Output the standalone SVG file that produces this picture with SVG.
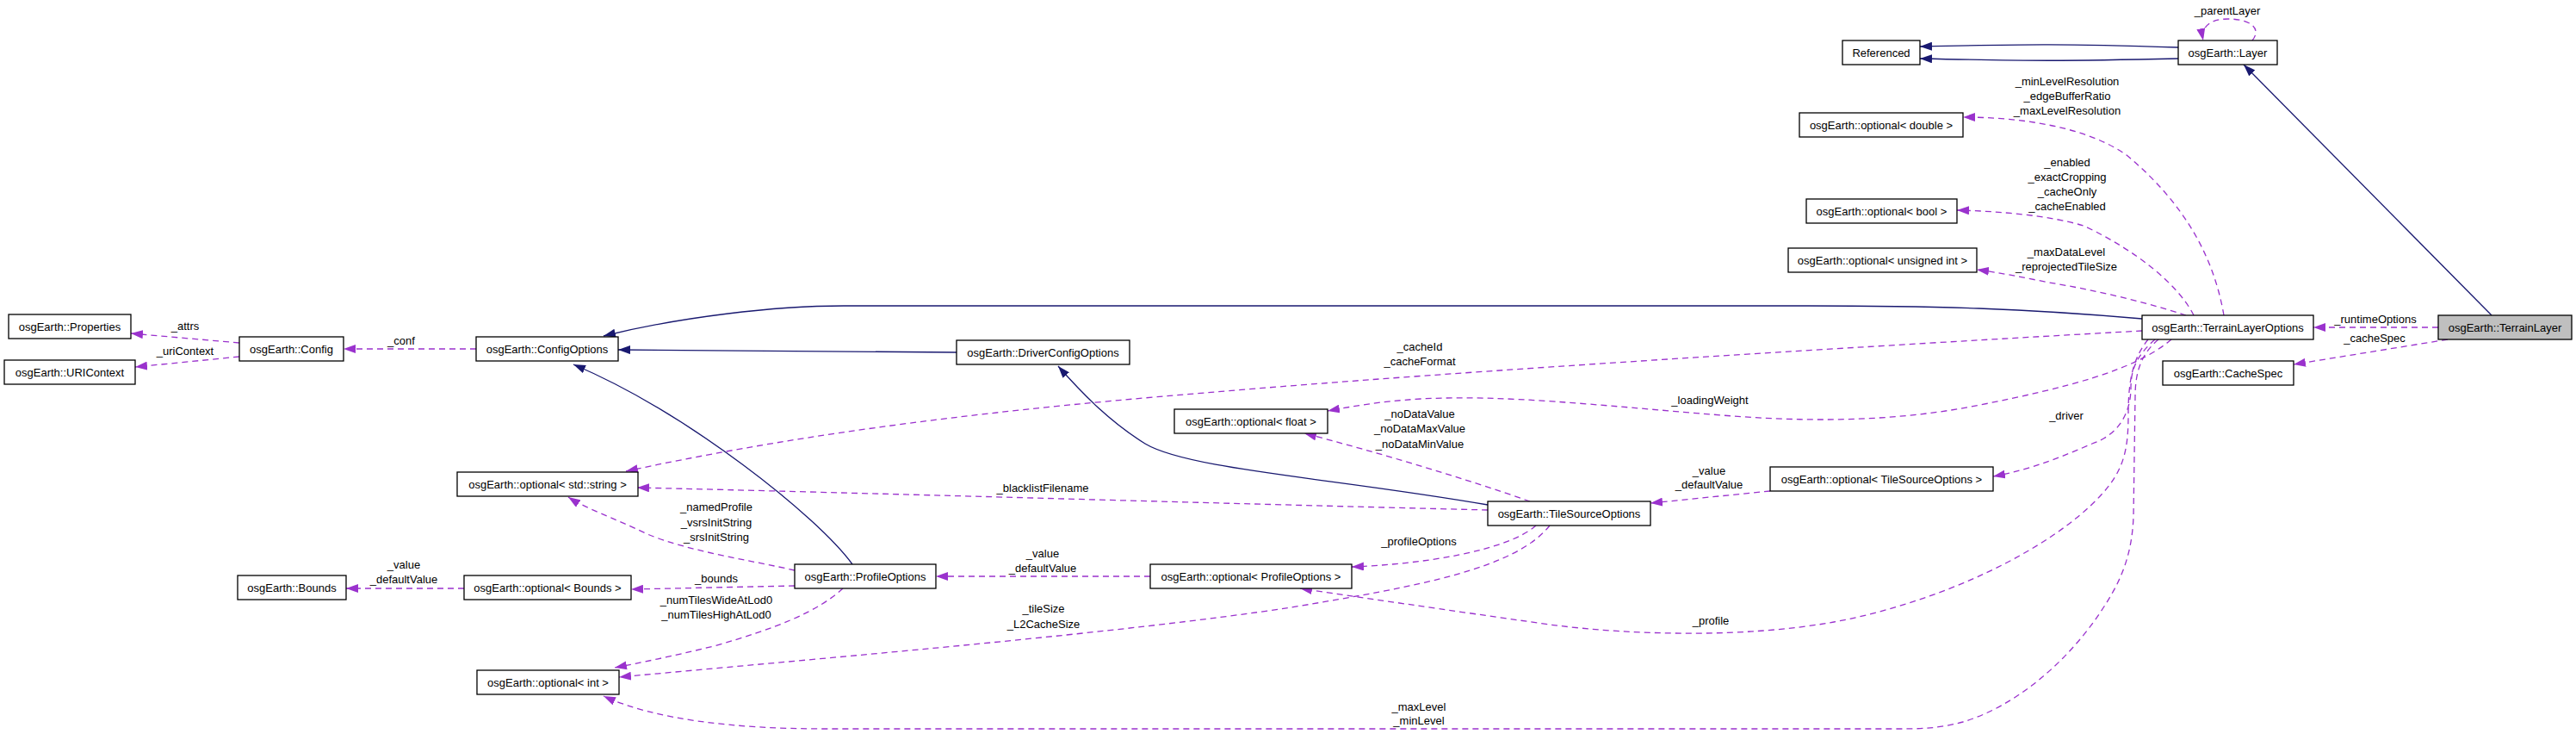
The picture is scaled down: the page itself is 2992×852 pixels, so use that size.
<svg xmlns="http://www.w3.org/2000/svg" width="2992" height="852" viewBox="0 0 2992 852">
<style>
.n rect{fill:#fff;stroke:#000;stroke-width:1.3}
.n text{font-family:"Liberation Sans",Arial,sans-serif;font-size:13px;fill:#000;text-anchor:middle}
.e path{fill:none;stroke-width:1.3}
.d{stroke:#9a32cd;stroke-dasharray:7,5}
.d.h{marker-end:url(#ap)}
.s{stroke:#191970;marker-end:url(#an)}
.l{font-family:"Liberation Sans",Arial,sans-serif;font-size:13px;fill:#000;text-anchor:middle}
</style>
<defs>
<marker id="ap" markerUnits="userSpaceOnUse" markerWidth="14" markerHeight="10" refX="14" refY="5" orient="auto"><path d="M0,0 L14,5 L0,10 z" fill="#9a32cd"/></marker>
<marker id="an" markerUnits="userSpaceOnUse" markerWidth="14" markerHeight="10" refX="14" refY="5" orient="auto"><path d="M0,0 L14,5 L0,10 z" fill="#191970"/></marker>
</defs>
<rect width="2992" height="852" fill="#fff"/>
<g id="edges" class="e">
<path class="d h" d="M278,398 L152,387"/>
<path class="d h" d="M278,414 L157,426"/>
<path class="d h" d="M553,405 L399,405"/>
<path class="s" d="M2488,370 C2350,358 2250,355 2100,355 L980,355 C900,355 790,368 701,390"/>
<path class="s" d="M1111,409 L718,406"/>
<path class="s" d="M990,655 C950,600 800,480 666,423"/>
<path class="s" d="M1728,586 C1550,555 1380,545 1330,515 C1290,490 1260,460 1229,425"/>
<path class="s" d="M2894,366 L2606,75"/>
<path class="s" d="M2530,55 C2400,51 2360,51 2230,54"/>
<path class="s" d="M2530,68 C2400,71 2360,71 2230,68"/>
<path class="d h" d="M2616,47 C2628,32 2612,22 2588,22 C2566,22 2556,32 2559,47"/>
<path class="d h" d="M2832,380 L2687,380"/>
<path class="d h" d="M2843,394 L2664,423"/>
<path class="d h" d="M2583,366 C2570,290 2530,230 2470,180 C2420,145 2340,136 2280,136"/>
<path class="d h" d="M2548,366 C2530,330 2480,290 2420,262 C2380,250 2320,245 2273,244"/>
<path class="d h" d="M2539,366 C2490,350 2430,336 2380,328 C2350,322 2320,316 2296,313"/>
<path class="d h" d="M2488,384 C2200,400 1700,430 1400,456 C1100,480 900,510 727,547"/>
<path class="d h" d="M2522,394 C2480,430 2400,450 2300,470 C2200,490 2100,490 2000,482 C1850,470 1750,458 1650,463 C1600,466 1570,472 1542,477"/>
<path class="d h" d="M1777,582 C1700,555 1600,525 1515,503"/>
<path class="d h" d="M1728,592 C1400,584 1000,572 740,566"/>
<path class="d h" d="M2503,394 C2485,410 2475,425 2475,450 C2475,480 2460,505 2430,515 C2400,528 2360,545 2315,553"/>
<path class="d h" d="M2056,570 L1917,584"/>
<path class="d h" d="M1784,610 C1750,640 1650,655 1570,658"/>
<path class="d h" d="M1800,610 C1760,660 1650,680 1500,705 C1300,735 1000,760 719,786"/>
<path class="d h" d="M1336,669 L1087,669"/>
<path class="d h" d="M2495,394 C2478,415 2472,440 2472,480 C2472,520 2468,545 2440,575 C2380,640 2250,700 2130,722 C2030,740 1900,738 1800,725 C1680,708 1570,692 1510,683"/>
<path class="d h" d="M923,662 C870,650 800,640 752,620 C710,600 680,590 660,577"/>
<path class="d h" d="M923,680 L733,684"/>
<path class="d h" d="M539,683 L402,683"/>
<path class="d h" d="M979,683 C950,710 900,730 829,750 C780,762 740,770 714,775"/>
<path class="d h" d="M2507,394 C2488,410 2480,430 2480,460 L2478,600 C2476,650 2460,680 2440,710 C2400,770 2340,820 2280,838 C2250,846 2230,846 2200,846 L960,846 C850,846 760,835 701,808"/>
<text class="l" x="215" y="383">_attrs</text>
<text class="l" x="215" y="412">_uriContext</text>
<text class="l" x="466" y="400">_conf</text>
<text class="l" x="2587" y="17">_parentLayer</text>
<text class="l" x="2759" y="375">_runtimeOptions</text>
<text class="l" x="2758" y="397">_cacheSpec</text>
<text class="l" x="2401" y="99">_minLevelResolution</text>
<text class="l" x="2401" y="116">_edgeBufferRatio</text>
<text class="l" x="2401" y="133">_maxLevelResolution</text>
<text class="l" x="2401" y="193">_enabled</text>
<text class="l" x="2401" y="210">_exactCropping</text>
<text class="l" x="2401" y="227">_cacheOnly</text>
<text class="l" x="2401" y="244">_cacheEnabled</text>
<text class="l" x="2400" y="297">_maxDataLevel</text>
<text class="l" x="2400" y="314">_reprojectedTileSize</text>
<text class="l" x="1649" y="407">_cacheId</text>
<text class="l" x="1649" y="424">_cacheFormat</text>
<text class="l" x="1986" y="469">_loadingWeight</text>
<text class="l" x="1649" y="485">_noDataValue</text>
<text class="l" x="1649" y="502">_noDataMaxValue</text>
<text class="l" x="1649" y="520">_noDataMinValue</text>
<text class="l" x="1211" y="571">_blacklistFilename</text>
<text class="l" x="2400" y="487">_driver</text>
<text class="l" x="1985" y="551">_value</text>
<text class="l" x="1985" y="567">_defaultValue</text>
<text class="l" x="1648" y="633">_profileOptions</text>
<text class="l" x="1212" y="711">_tileSize</text>
<text class="l" x="1212" y="729">_L2CacheSize</text>
<text class="l" x="1211" y="647">_value</text>
<text class="l" x="1211" y="664">_defaultValue</text>
<text class="l" x="1987" y="725">_profile</text>
<text class="l" x="832" y="593">_namedProfile</text>
<text class="l" x="832" y="611">_vsrsInitString</text>
<text class="l" x="832" y="628">_srsInitString</text>
<text class="l" x="832" y="676">_bounds</text>
<text class="l" x="469" y="660">_value</text>
<text class="l" x="469" y="677">_defaultValue</text>
<text class="l" x="832" y="701">_numTilesWideAtLod0</text>
<text class="l" x="832" y="718">_numTilesHighAtLod0</text>
<text class="l" x="1648" y="825">_maxLevel</text>
<text class="l" x="1648" y="841">_minLevel</text>
</g>
<g id="n-properties" class="n"><rect x="10" y="365" width="142" height="28"/><text x="81" y="384">osgEarth::Properties</text></g>
<g id="n-uricontext" class="n"><rect x="5" y="418" width="152" height="28"/><text x="81" y="437">osgEarth::URIContext</text></g>
<g id="n-config" class="n"><rect x="278" y="391" width="121" height="28"/><text x="338.5" y="410">osgEarth::Config</text></g>
<g id="n-configoptions" class="n"><rect x="553" y="391" width="165" height="28"/><text x="635.5" y="410">osgEarth::ConfigOptions</text></g>
<g id="n-optstring" class="n"><rect x="531" y="548" width="210" height="28"/><text x="636" y="567">osgEarth::optional&lt; std::string &gt;</text></g>
<g id="n-bounds" class="n"><rect x="276" y="668" width="126" height="28"/><text x="339" y="687">osgEarth::Bounds</text></g>
<g id="n-optbounds" class="n"><rect x="539" y="668" width="194" height="28"/><text x="636" y="687">osgEarth::optional&lt; Bounds &gt;</text></g>
<g id="n-optint" class="n"><rect x="554" y="778" width="165" height="28"/><text x="636.5" y="797">osgEarth::optional&lt; int &gt;</text></g>
<g id="n-profileoptions" class="n"><rect x="923" y="655" width="164" height="28"/><text x="1005" y="674">osgEarth::ProfileOptions</text></g>
<g id="n-optprofileoptions" class="n"><rect x="1336" y="655" width="234" height="28"/><text x="1453" y="674">osgEarth::optional&lt; ProfileOptions &gt;</text></g>
<g id="n-driverconfigoptions" class="n"><rect x="1111" y="395" width="201" height="28"/><text x="1211.5" y="414">osgEarth::DriverConfigOptions</text></g>
<g id="n-optfloat" class="n"><rect x="1364" y="475" width="178" height="28"/><text x="1453" y="494">osgEarth::optional&lt; float &gt;</text></g>
<g id="n-tilesourceoptions" class="n"><rect x="1728" y="582" width="189" height="28"/><text x="1822.5" y="601">osgEarth::TileSourceOptions</text></g>
<g id="n-opttilesourceoptions" class="n"><rect x="2056" y="542" width="259" height="28"/><text x="2185.5" y="561">osgEarth::optional&lt; TileSourceOptions &gt;</text></g>
<g id="n-referenced" class="n"><rect x="2140" y="47" width="90" height="28"/><text x="2185" y="66">Referenced</text></g>
<g id="n-layer" class="n"><rect x="2530" y="47" width="115" height="28"/><text x="2587.5" y="66">osgEarth::Layer</text></g>
<g id="n-optdouble" class="n"><rect x="2090" y="131" width="190" height="28"/><text x="2185" y="150">osgEarth::optional&lt; double &gt;</text></g>
<g id="n-optbool" class="n"><rect x="2098" y="231" width="175" height="28"/><text x="2185.5" y="250">osgEarth::optional&lt; bool &gt;</text></g>
<g id="n-optuint" class="n"><rect x="2077" y="288" width="219" height="28"/><text x="2186.5" y="307">osgEarth::optional&lt; unsigned int &gt;</text></g>
<g id="n-terrainlayeroptions" class="n"><rect x="2488" y="366" width="199" height="28"/><text x="2587.5" y="385">osgEarth::TerrainLayerOptions</text></g>
<g id="n-terrainlayer" class="n"><rect x="2832" y="366" width="155" height="28" style="fill:#bfbfbf"/><text x="2909.5" y="385">osgEarth::TerrainLayer</text></g>
<g id="n-cachespec" class="n"><rect x="2512" y="419" width="152" height="28"/><text x="2588" y="438">osgEarth::CacheSpec</text></g>
</svg>
